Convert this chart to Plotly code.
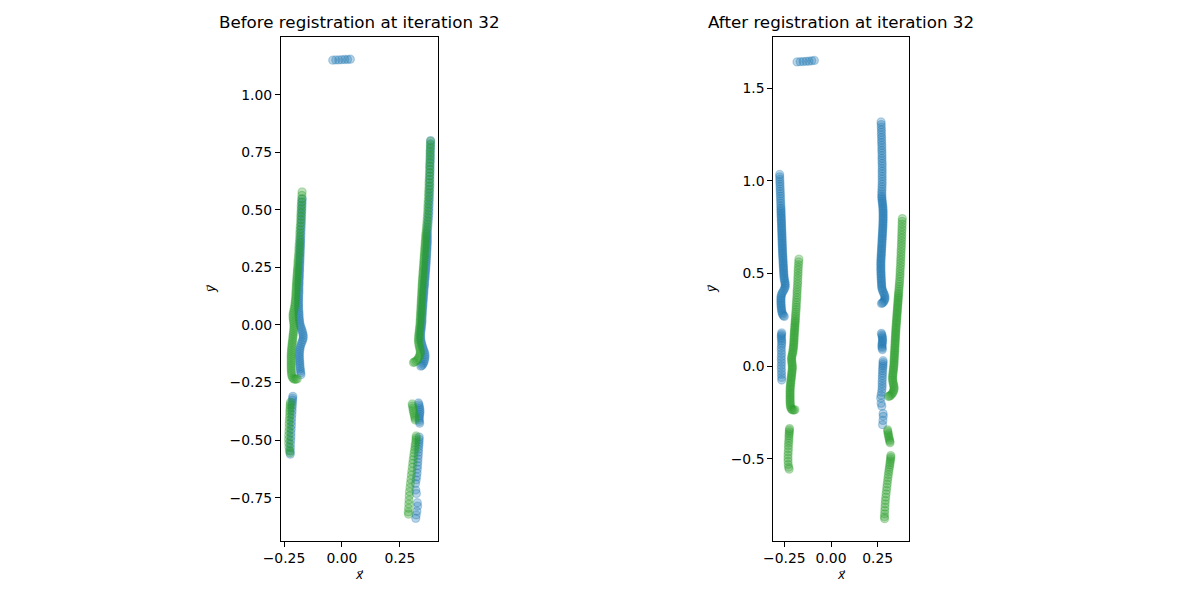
import plotly.graph_objects as go

# ---- data ----
# green point set (static, same in both panels)
GREEN_LEFT_UPPER = [
    (-0.172, 0.578), (-0.173, 0.563), (-0.174, 0.548), (-0.175, 0.533), (-0.176, 0.518), (-0.176, 0.503),
    (-0.177, 0.488), (-0.178, 0.473), (-0.178, 0.458), (-0.179, 0.443), (-0.180, 0.428), (-0.181, 0.413),
    (-0.182, 0.399), (-0.182, 0.385), (-0.183, 0.371), (-0.184, 0.357), (-0.185, 0.344), (-0.186, 0.331),
    (-0.186, 0.318), (-0.187, 0.306), (-0.188, 0.294), (-0.189, 0.282), (-0.190, 0.271), (-0.190, 0.260),
    (-0.191, 0.250), (-0.192, 0.241), (-0.192, 0.232), (-0.193, 0.223), (-0.194, 0.214), (-0.194, 0.205),
    (-0.195, 0.196), (-0.196, 0.187), (-0.196, 0.178), (-0.197, 0.169), (-0.197, 0.160), (-0.198, 0.151),
    (-0.198, 0.142), (-0.199, 0.133), (-0.199, 0.124), (-0.200, 0.115), (-0.201, 0.106), (-0.202, 0.097),
    (-0.203, 0.088), (-0.204, 0.079), (-0.206, 0.070), (-0.208, 0.061), (-0.210, 0.052), (-0.211, 0.043),
    (-0.211, 0.034), (-0.210, 0.025), (-0.209, 0.016), (-0.208, 0.007), (-0.207, -0.002), (-0.207, -0.011),
    (-0.208, -0.020), (-0.209, -0.029), (-0.210, -0.038), (-0.211, -0.047), (-0.212, -0.056), (-0.213, -0.065),
    (-0.214, -0.074), (-0.215, -0.083), (-0.216, -0.092), (-0.217, -0.101), (-0.218, -0.110), (-0.218, -0.119),
    (-0.219, -0.128), (-0.219, -0.137), (-0.219, -0.146), (-0.219, -0.155), (-0.219, -0.164), (-0.219, -0.173),
    (-0.219, -0.182), (-0.219, -0.191), (-0.218, -0.200), (-0.218, -0.209), (-0.217, -0.218), (-0.214, -0.227),
    (-0.210, -0.233), (-0.205, -0.236), (-0.199, -0.236), (-0.193, -0.234),
]
GREEN_LEFT_LOWER = [
    (-0.222, -0.336), (-0.223, -0.345), (-0.223, -0.354), (-0.224, -0.364), (-0.225, -0.375), (-0.225, -0.387),
    (-0.226, -0.400), (-0.227, -0.414), (-0.228, -0.429), (-0.228, -0.445), (-0.229, -0.462), (-0.230, -0.479),
    (-0.230, -0.496), (-0.230, -0.513), (-0.229, -0.530), (-0.227, -0.545), (-0.224, -0.555),
]
GREEN_RIGHT_UPPER = [
    (0.382, 0.797), (0.381, 0.782), (0.381, 0.767), (0.380, 0.752), (0.380, 0.737), (0.379, 0.722),
    (0.379, 0.707), (0.378, 0.692), (0.378, 0.677), (0.377, 0.662), (0.377, 0.647), (0.376, 0.632),
    (0.375, 0.617), (0.375, 0.602), (0.374, 0.587), (0.373, 0.572), (0.373, 0.557), (0.372, 0.542),
    (0.371, 0.527), (0.370, 0.512), (0.370, 0.498), (0.369, 0.484), (0.368, 0.470), (0.367, 0.456),
    (0.366, 0.443), (0.365, 0.430), (0.364, 0.418), (0.363, 0.406), (0.362, 0.395), (0.361, 0.386),
    (0.361, 0.377), (0.360, 0.368), (0.359, 0.359), (0.359, 0.350), (0.358, 0.341), (0.357, 0.332),
    (0.357, 0.323), (0.356, 0.314), (0.355, 0.305), (0.355, 0.296), (0.354, 0.287), (0.353, 0.278),
    (0.353, 0.269), (0.352, 0.260), (0.351, 0.251), (0.351, 0.242), (0.350, 0.233), (0.349, 0.224),
    (0.349, 0.215), (0.348, 0.206), (0.347, 0.197), (0.347, 0.188), (0.346, 0.179), (0.346, 0.170),
    (0.345, 0.161), (0.345, 0.152), (0.344, 0.143), (0.344, 0.134), (0.343, 0.125), (0.343, 0.116),
    (0.342, 0.107), (0.342, 0.098), (0.341, 0.089), (0.341, 0.080), (0.340, 0.071), (0.340, 0.062),
    (0.339, 0.053), (0.339, 0.044), (0.338, 0.035), (0.338, 0.026), (0.337, 0.017), (0.337, 0.008),
    (0.336, -0.001), (0.335, -0.010), (0.334, -0.019), (0.333, -0.028), (0.332, -0.037), (0.331, -0.046),
    (0.330, -0.055), (0.330, -0.064), (0.330, -0.073), (0.331, -0.082), (0.333, -0.091), (0.335, -0.100),
    (0.337, -0.109), (0.338, -0.118), (0.337, -0.127), (0.334, -0.136), (0.330, -0.144), (0.325, -0.151),
    (0.319, -0.157), (0.313, -0.161), (0.308, -0.163),
]
GREEN_RIGHT_MID = [
    (0.303, -0.343), (0.304, -0.352), (0.306, -0.361), (0.307, -0.370), (0.309, -0.379), (0.311, -0.388),
    (0.313, -0.397), (0.315, -0.405), (0.316, -0.413),
]
GREEN_RIGHT_LOWER = [
    (0.320, -0.482), (0.320, -0.491), (0.319, -0.500), (0.318, -0.510), (0.316, -0.520), (0.315, -0.531),
    (0.313, -0.543), (0.311, -0.556), (0.309, -0.570), (0.307, -0.585), (0.305, -0.601), (0.303, -0.618),
    (0.301, -0.635), (0.299, -0.652), (0.297, -0.670), (0.295, -0.688), (0.293, -0.706), (0.291, -0.724),
    (0.290, -0.742), (0.289, -0.760), (0.288, -0.778), (0.287, -0.796), (0.286, -0.812), (0.287, -0.822),
]

# blue point set before registration
BLUE_BEFORE_TOP = [
    (-0.040, 1.150), (-0.027, 1.151), (-0.014, 1.151), (-0.001, 1.152), (0.012, 1.153), (0.024, 1.153),
    (0.036, 1.154),
]
BLUE_BEFORE_LEFT_UPPER = [
    (-0.171, 0.548), (-0.172, 0.535), (-0.172, 0.522), (-0.173, 0.509), (-0.173, 0.496), (-0.174, 0.483),
    (-0.174, 0.470), (-0.175, 0.457), (-0.175, 0.444), (-0.176, 0.431), (-0.176, 0.418), (-0.177, 0.405),
    (-0.177, 0.392), (-0.178, 0.379), (-0.178, 0.368), (-0.179, 0.359), (-0.179, 0.350), (-0.179, 0.341),
    (-0.180, 0.332), (-0.180, 0.323), (-0.180, 0.314), (-0.181, 0.305), (-0.181, 0.296), (-0.181, 0.287),
    (-0.182, 0.278), (-0.182, 0.269), (-0.182, 0.260), (-0.183, 0.251), (-0.183, 0.242), (-0.183, 0.233),
    (-0.184, 0.224), (-0.184, 0.215), (-0.184, 0.206), (-0.185, 0.197), (-0.185, 0.188), (-0.185, 0.179),
    (-0.186, 0.170), (-0.186, 0.161), (-0.186, 0.152), (-0.186, 0.143), (-0.186, 0.134), (-0.187, 0.125),
    (-0.187, 0.116), (-0.187, 0.107), (-0.187, 0.098), (-0.187, 0.089), (-0.187, 0.080), (-0.187, 0.071),
    (-0.186, 0.062), (-0.186, 0.053), (-0.185, 0.044), (-0.185, 0.035), (-0.184, 0.026), (-0.183, 0.017),
    (-0.182, 0.008), (-0.180, -0.001), (-0.177, -0.010), (-0.174, -0.019), (-0.171, -0.028), (-0.169, -0.037),
    (-0.167, -0.046), (-0.167, -0.055), (-0.169, -0.064), (-0.172, -0.073), (-0.176, -0.082), (-0.179, -0.091),
    (-0.181, -0.100), (-0.182, -0.109), (-0.183, -0.118), (-0.184, -0.127), (-0.184, -0.136), (-0.183, -0.145),
    (-0.183, -0.154), (-0.182, -0.163), (-0.182, -0.172), (-0.181, -0.181), (-0.180, -0.190), (-0.179, -0.199),
    (-0.178, -0.208), (-0.177, -0.216),
]
BLUE_BEFORE_LEFT_LOWER = [
    (-0.212, -0.310), (-0.213, -0.318), (-0.213, -0.327), (-0.214, -0.337), (-0.214, -0.348), (-0.215, -0.360),
    (-0.215, -0.374), (-0.216, -0.389), (-0.217, -0.405), (-0.218, -0.421), (-0.218, -0.437), (-0.219, -0.453),
    (-0.220, -0.469), (-0.220, -0.485), (-0.221, -0.501), (-0.222, -0.517), (-0.222, -0.533), (-0.223, -0.548),
    (-0.223, -0.561),
]
BLUE_BEFORE_RIGHT_UPPER = [
    (0.382, 0.801), (0.382, 0.787), (0.382, 0.773), (0.381, 0.759), (0.381, 0.745), (0.381, 0.731),
    (0.381, 0.717), (0.380, 0.703), (0.380, 0.689), (0.380, 0.675), (0.380, 0.661), (0.379, 0.647),
    (0.379, 0.633), (0.379, 0.619), (0.379, 0.605), (0.378, 0.591), (0.378, 0.577), (0.377, 0.563),
    (0.377, 0.549), (0.376, 0.535), (0.376, 0.521), (0.375, 0.507), (0.375, 0.493), (0.374, 0.479),
    (0.373, 0.465), (0.372, 0.451), (0.371, 0.438), (0.370, 0.425), (0.369, 0.413), (0.368, 0.402),
    (0.368, 0.393), (0.368, 0.384), (0.368, 0.375), (0.368, 0.366), (0.368, 0.357), (0.367, 0.348),
    (0.367, 0.339), (0.366, 0.330), (0.366, 0.321), (0.365, 0.312), (0.365, 0.303), (0.364, 0.294),
    (0.364, 0.285), (0.363, 0.276), (0.363, 0.267), (0.362, 0.258), (0.361, 0.249), (0.361, 0.240),
    (0.360, 0.231), (0.359, 0.222), (0.359, 0.213), (0.358, 0.204), (0.357, 0.195), (0.356, 0.186),
    (0.356, 0.177), (0.355, 0.168), (0.354, 0.159), (0.353, 0.150), (0.353, 0.141), (0.352, 0.132),
    (0.351, 0.123), (0.351, 0.114), (0.350, 0.105), (0.349, 0.096), (0.349, 0.087), (0.348, 0.078),
    (0.347, 0.069), (0.347, 0.060), (0.346, 0.051), (0.346, 0.042), (0.345, 0.033), (0.345, 0.024),
    (0.345, 0.015), (0.344, 0.006), (0.343, -0.003), (0.342, -0.012), (0.341, -0.021), (0.340, -0.030),
    (0.339, -0.039), (0.339, -0.048), (0.339, -0.057), (0.340, -0.066), (0.342, -0.075), (0.344, -0.084),
    (0.347, -0.093), (0.350, -0.102), (0.353, -0.111), (0.356, -0.120), (0.358, -0.129), (0.358, -0.138),
    (0.357, -0.147), (0.355, -0.156), (0.352, -0.164), (0.349, -0.171), (0.345, -0.176), (0.340, -0.179),
]
BLUE_BEFORE_RIGHT_MID = [
    (0.330, -0.339), (0.332, -0.347), (0.334, -0.355), (0.335, -0.363), (0.336, -0.371), (0.336, -0.379),
    (0.335, -0.387), (0.334, -0.395), (0.333, -0.403), (0.333, -0.411), (0.334, -0.419), (0.335, -0.427),
]
BLUE_BEFORE_RIGHT_LOWER = [
    (0.333, -0.487), (0.333, -0.497), (0.332, -0.507), (0.332, -0.517), (0.331, -0.528), (0.330, -0.540),
    (0.330, -0.553), (0.329, -0.567), (0.328, -0.581), (0.327, -0.596), (0.326, -0.611), (0.325, -0.626),
    (0.324, -0.643), (0.322, -0.659), (0.320, -0.673), (0.317, -0.689), (0.318, -0.717), (0.321, -0.732),
    (0.325, -0.772), (0.326, -0.787), (0.323, -0.809), (0.320, -0.825), (0.318, -0.840),
]

# blue point set after registration
BLUE_AFTER_TOP = [
    (-0.182, 1.642), (-0.165, 1.643), (-0.149, 1.644), (-0.133, 1.645), (-0.118, 1.646), (-0.103, 1.648),
    (-0.089, 1.650),
]
BLUE_AFTER_LEFT_UPPER = [
    (-0.275, 1.035), (-0.275, 1.022), (-0.274, 1.009), (-0.274, 0.996), (-0.273, 0.983), (-0.273, 0.970),
    (-0.272, 0.957), (-0.272, 0.944), (-0.271, 0.931), (-0.271, 0.918), (-0.270, 0.905), (-0.270, 0.892),
    (-0.269, 0.879), (-0.269, 0.866), (-0.268, 0.855), (-0.268, 0.846), (-0.268, 0.837), (-0.267, 0.828),
    (-0.267, 0.819), (-0.267, 0.810), (-0.266, 0.801), (-0.266, 0.792), (-0.266, 0.783), (-0.265, 0.774),
    (-0.265, 0.765), (-0.265, 0.756), (-0.264, 0.747), (-0.264, 0.738), (-0.264, 0.729), (-0.263, 0.720),
    (-0.263, 0.711), (-0.263, 0.702), (-0.262, 0.693), (-0.262, 0.684), (-0.262, 0.675), (-0.261, 0.666),
    (-0.261, 0.657), (-0.261, 0.648), (-0.260, 0.639), (-0.260, 0.630), (-0.260, 0.621), (-0.259, 0.612),
    (-0.259, 0.603), (-0.258, 0.594), (-0.258, 0.585), (-0.257, 0.576), (-0.257, 0.567), (-0.256, 0.558),
    (-0.256, 0.549), (-0.255, 0.540), (-0.255, 0.531), (-0.254, 0.522), (-0.254, 0.513), (-0.253, 0.504),
    (-0.253, 0.495), (-0.252, 0.486), (-0.251, 0.477), (-0.250, 0.468), (-0.248, 0.459), (-0.246, 0.450),
    (-0.245, 0.441), (-0.245, 0.432), (-0.247, 0.423), (-0.251, 0.414), (-0.256, 0.405), (-0.261, 0.396),
    (-0.265, 0.387), (-0.267, 0.378), (-0.268, 0.369), (-0.268, 0.360), (-0.268, 0.351), (-0.268, 0.342),
    (-0.267, 0.333), (-0.267, 0.324), (-0.266, 0.315), (-0.265, 0.306), (-0.264, 0.297), (-0.262, 0.288),
    (-0.259, 0.280), (-0.255, 0.273), (-0.250, 0.269),
]
BLUE_AFTER_LEFT_LOWER = [
    (-0.264, 0.180), (-0.265, 0.172), (-0.266, 0.164), (-0.266, 0.155), (-0.265, 0.146), (-0.264, 0.136),
    (-0.264, 0.125), (-0.265, 0.113), (-0.266, 0.099), (-0.266, 0.084), (-0.265, 0.068), (-0.266, 0.052),
    (-0.266, 0.036), (-0.265, 0.020), (-0.266, 0.004), (-0.266, -0.012), (-0.265, -0.028), (-0.265, -0.044),
    (-0.264, -0.060), (-0.264, -0.074),
]
BLUE_AFTER_RIGHT_UPPER = [
    (0.268, 1.318), (0.269, 1.304), (0.269, 1.290), (0.270, 1.276), (0.270, 1.262), (0.270, 1.248),
    (0.271, 1.234), (0.271, 1.220), (0.271, 1.206), (0.272, 1.192), (0.272, 1.178), (0.272, 1.164),
    (0.273, 1.150), (0.273, 1.136), (0.273, 1.122), (0.273, 1.108), (0.274, 1.094), (0.274, 1.080),
    (0.274, 1.066), (0.274, 1.052), (0.274, 1.038), (0.274, 1.024), (0.274, 1.010), (0.274, 0.996),
    (0.274, 0.982), (0.273, 0.968), (0.273, 0.955), (0.272, 0.942), (0.272, 0.930), (0.272, 0.919),
    (0.272, 0.910), (0.273, 0.901), (0.274, 0.892), (0.275, 0.883), (0.276, 0.874), (0.277, 0.865),
    (0.278, 0.856), (0.278, 0.847), (0.279, 0.838), (0.279, 0.829), (0.279, 0.820), (0.279, 0.811),
    (0.279, 0.802), (0.279, 0.793), (0.279, 0.784), (0.278, 0.775), (0.278, 0.766), (0.278, 0.757),
    (0.277, 0.748), (0.277, 0.739), (0.276, 0.730), (0.276, 0.721), (0.275, 0.712), (0.275, 0.703),
    (0.274, 0.694), (0.274, 0.685), (0.273, 0.676), (0.273, 0.667), (0.272, 0.658), (0.272, 0.649),
    (0.271, 0.640), (0.271, 0.631), (0.270, 0.622), (0.270, 0.613), (0.269, 0.604), (0.269, 0.595),
    (0.268, 0.586), (0.268, 0.577), (0.267, 0.568), (0.267, 0.559), (0.267, 0.550), (0.267, 0.541),
    (0.267, 0.532), (0.267, 0.523), (0.267, 0.514), (0.268, 0.505), (0.268, 0.496), (0.268, 0.487),
    (0.269, 0.478), (0.269, 0.469), (0.270, 0.460), (0.270, 0.451), (0.271, 0.442), (0.271, 0.433),
    (0.272, 0.424), (0.274, 0.415), (0.277, 0.406), (0.281, 0.397), (0.285, 0.388), (0.288, 0.379),
    (0.289, 0.370), (0.288, 0.361), (0.285, 0.353), (0.280, 0.346), (0.275, 0.341), (0.270, 0.339),
]
BLUE_AFTER_RIGHT_MID = [
    (0.270, 0.178), (0.272, 0.170), (0.274, 0.162), (0.275, 0.154), (0.276, 0.146), (0.276, 0.138),
    (0.275, 0.130), (0.274, 0.122), (0.273, 0.114), (0.273, 0.106), (0.274, 0.098), (0.275, 0.090),
]
BLUE_AFTER_RIGHT_LOWER = [
    (0.279, 0.030), (0.279, 0.020), (0.278, 0.010), (0.278, 0.000), (0.277, -0.011), (0.276, -0.023),
    (0.276, -0.036), (0.275, -0.050), (0.275, -0.064), (0.274, -0.079), (0.274, -0.094), (0.274, -0.109),
    (0.273, -0.124), (0.271, -0.140), (0.268, -0.156), (0.266, -0.172), (0.268, -0.200), (0.272, -0.215),
    (0.279, -0.255), (0.280, -0.270), (0.278, -0.292), (0.276, -0.315),
]

GREEN = (GREEN_LEFT_UPPER + GREEN_LEFT_LOWER + GREEN_RIGHT_UPPER
         + GREEN_RIGHT_MID + GREEN_RIGHT_LOWER)
BLUE_BEFORE = (BLUE_BEFORE_TOP + BLUE_BEFORE_LEFT_UPPER + BLUE_BEFORE_LEFT_LOWER
               + BLUE_BEFORE_RIGHT_UPPER + BLUE_BEFORE_RIGHT_MID + BLUE_BEFORE_RIGHT_LOWER)
BLUE_AFTER = (BLUE_AFTER_TOP + BLUE_AFTER_LEFT_UPPER + BLUE_AFTER_LEFT_LOWER
              + BLUE_AFTER_RIGHT_UPPER + BLUE_AFTER_RIGHT_MID + BLUE_AFTER_RIGHT_LOWER)

TITLES = ["Before registration at iteration 32", "After registration at iteration 32"]
X_TICKS = [-0.25, 0.0, 0.25]
X_TICK_TEXT = ["\u22120.25", "0.00", "0.25"]
Y_TICKS_BEFORE = [-0.75, -0.5, -0.25, 0.0, 0.25, 0.5, 0.75, 1.0]
Y_TICK_TEXT_BEFORE = ["\u22120.75", "\u22120.50", "\u22120.25", "0.00", "0.25", "0.50", "0.75", "1.00"]
Y_TICKS_AFTER = [-0.5, 0.0, 0.5, 1.0, 1.5]
Y_TICK_TEXT_AFTER = ["\u22120.5", "0.0", "0.5", "1.0", "1.5"]

BLUE = "31,119,180"
GREEN_RGB = "44,160,44"
ALPHA = 0.3
FONT = "DejaVu Sans"
W, H = 1200, 600
OFF = 8  # page body margin, the figure is drawn this far from the corner


def px_x(px):
    return (px - OFF) / W


def px_y(py):
    return (H - (py - OFF)) / H


def pts_trace(points, rgb, xaxis, yaxis):
    return go.Scatter(
        x=[p[0] for p in points],
        y=[p[1] for p in points],
        mode="markers",
        xaxis=xaxis,
        yaxis=yaxis,
        showlegend=False,
        hoverinfo="skip",
        marker=dict(
            size=8,
            color=f"rgba({rgb},{ALPHA})",
            line=dict(color=f"rgba({rgb},{ALPHA})", width=1.3),
        ),
    )


fig = go.Figure()
fig.add_trace(pts_trace(BLUE_BEFORE, BLUE, "x", "y"))
fig.add_trace(pts_trace(GREEN, GREEN_RGB, "x", "y"))
fig.add_trace(pts_trace(BLUE_AFTER, BLUE, "x2", "y2"))
fig.add_trace(pts_trace(GREEN, GREEN_RGB, "x2", "y2"))

axis_style = dict(
    showgrid=False,
    zeroline=False,
    showline=True,
    linecolor="black",
    linewidth=1.1,
    mirror=True,
    ticks="outside",
    ticklen=5,
    tickwidth=1.1,
    tickcolor="black",
    tickmode="array",
    automargin=False,
    tickfont=dict(family=FONT, size=13.9, color="black"),
)

# panel positions (reference pixels -> paper coords)
L_DOM_X = [px_x(281), px_x(438)]
R_DOM_X = [px_x(773.3), px_x(908.7)]
DOM_Y = [px_y(540.7), px_y(36.7)]

fig.update_layout(
    template="none",
    width=W,
    height=H,
    margin=dict(l=0, r=0, t=0, b=0, pad=0),
    paper_bgcolor="white",
    plot_bgcolor="white",
    xaxis=dict(axis_style, domain=L_DOM_X, range=[-0.263, 0.414], anchor="y",
               tickvals=X_TICKS, ticktext=X_TICK_TEXT),
    yaxis=dict(axis_style, domain=DOM_Y, range=[-0.937, 1.252], anchor="x",
               tickvals=Y_TICKS_BEFORE, ticktext=Y_TICK_TEXT_BEFORE),
    xaxis2=dict(axis_style, domain=R_DOM_X, range=[-0.309, 0.416], anchor="y2",
                tickvals=X_TICKS, ticktext=X_TICK_TEXT),
    yaxis2=dict(axis_style, domain=DOM_Y, range=[-0.941, 1.778], anchor="x2",
                tickvals=Y_TICKS_AFTER, ticktext=Y_TICK_TEXT_AFTER),
)

# titles and axis labels as annotations
for cx_px, title, ylab_px in [(359.5, TITLES[0], 211), (841, TITLES[1], 712)]:
    fig.add_annotation(text=title, xref="paper", yref="paper", x=px_x(cx_px), y=px_y(22),
                       xanchor="center", yanchor="middle", showarrow=False,
                       font=dict(family=FONT, size=16.7, color="black"))
    fig.add_annotation(text="x\u20d7", xref="paper", yref="paper", x=px_x(cx_px), y=px_y(575),
                       xanchor="center", yanchor="middle", showarrow=False,
                       font=dict(family=FONT, size=12, color="black", style="italic"))
    fig.add_annotation(text="y\u20d7", xref="paper", yref="paper", x=px_x(ylab_px), y=px_y(289),
                       xanchor="center", yanchor="middle", showarrow=False, textangle=-90,
                       font=dict(family=FONT, size=12, color="black", style="italic"))

fig.write_html("out.html")
